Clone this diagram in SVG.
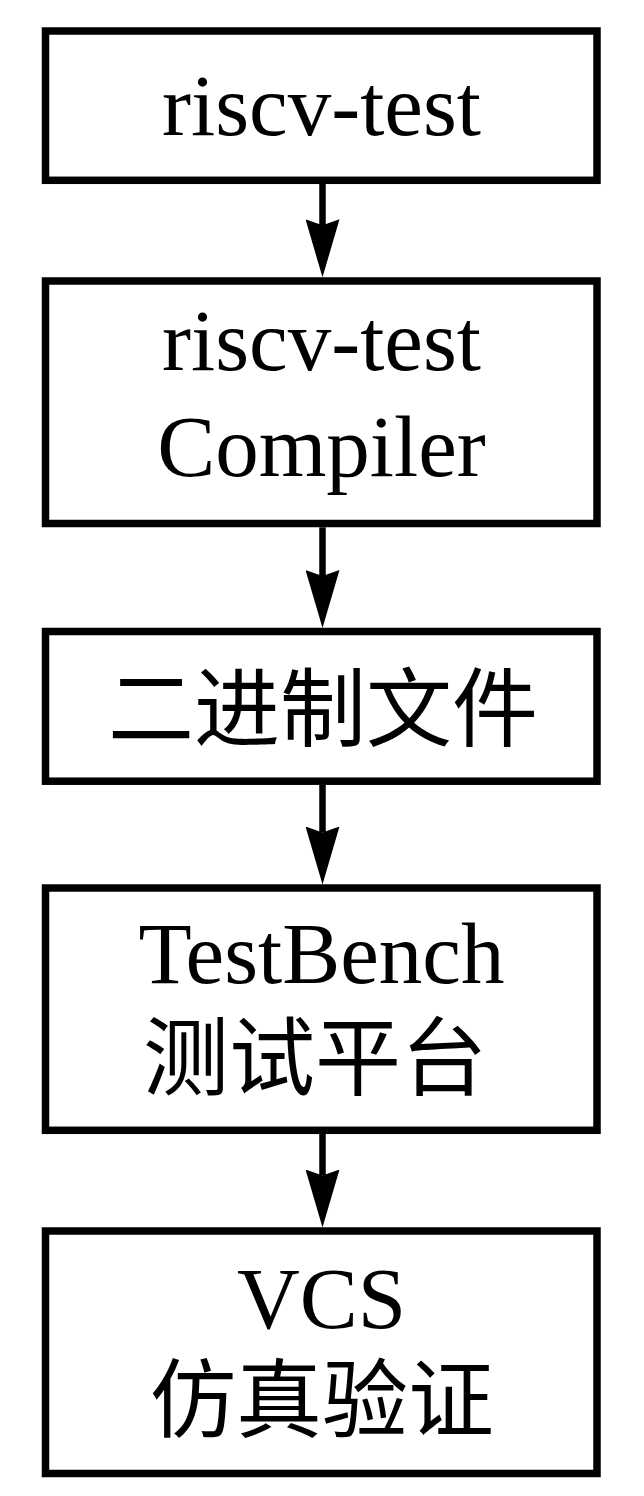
<svg xmlns="http://www.w3.org/2000/svg" width="644" height="1496" viewBox="0 0 644 1496">
  <style>
    .box { fill: #ffffff; stroke: #000000; stroke-width: 7.5; }
    .lat { font-family: "Liberation Serif", "Times New Roman", serif; font-size: 87px; fill: #000000; text-anchor: middle; }
    .cjk { font-family: "Liberation Serif", "Noto Sans CJK SC", serif; font-size: 86px; fill: #000000; text-anchor: middle; }
    .conn { stroke: #000000; stroke-width: 6.5; fill: none; marker-end: url(#head); }
  </style>
  <defs>
    <marker id="head" markerUnits="userSpaceOnUse" viewBox="0 0 58 34" refX="6" refY="17" markerWidth="58" markerHeight="34" orient="auto">
      <path d="M0,0 L58,17 L0,34 L6,17 Z" fill="#000000"/>
    </marker>
  </defs>
  <rect x="0" y="0" width="644" height="1496" fill="#ffffff"/>

  <g id="connectors">
    <path class="conn" d="M322.5,184 L322.5,225.3"/>
    <path class="conn" d="M322.5,527.3 L322.5,576"/>
    <path class="conn" d="M322.5,785 L322.5,832.5"/>
    <path class="conn" d="M322.5,1134 L322.5,1175.5"/>
  </g>

  <g id="node-riscv-test">
    <rect class="box" x="45.5" y="31" width="551.5" height="149.3"/>
    <text class="lat" x="321.5" y="135">riscv-test</text>
  </g>

  <g id="node-compiler">
    <rect class="box" x="45.5" y="281" width="551.5" height="242.5"/>
    <text class="lat" x="321.5" y="370">riscv-test</text>
    <text class="lat" x="321.5" y="476">Compiler</text>
  </g>

  <g id="node-binary">
    <rect class="box" x="45.5" y="631.5" width="551.5" height="149.7"/>
    <text class="cjk" x="323" y="740" font-size="89">二进制文件</text>
  </g>

  <g id="node-testbench">
    <rect class="box" x="45.5" y="888" width="551.5" height="242.3"/>
    <text class="lat" x="321.5" y="983">TestBench</text>
    <text class="cjk" x="315" y="1089">测试平台</text>
  </g>

  <g id="node-vcs">
    <rect class="box" x="45.5" y="1231" width="551.5" height="242.5"/>
    <text class="lat" x="321.5" y="1328">VCS</text>
    <text class="cjk" x="322" y="1431" font-size="89">仿真验证</text>
  </g>
</svg>
